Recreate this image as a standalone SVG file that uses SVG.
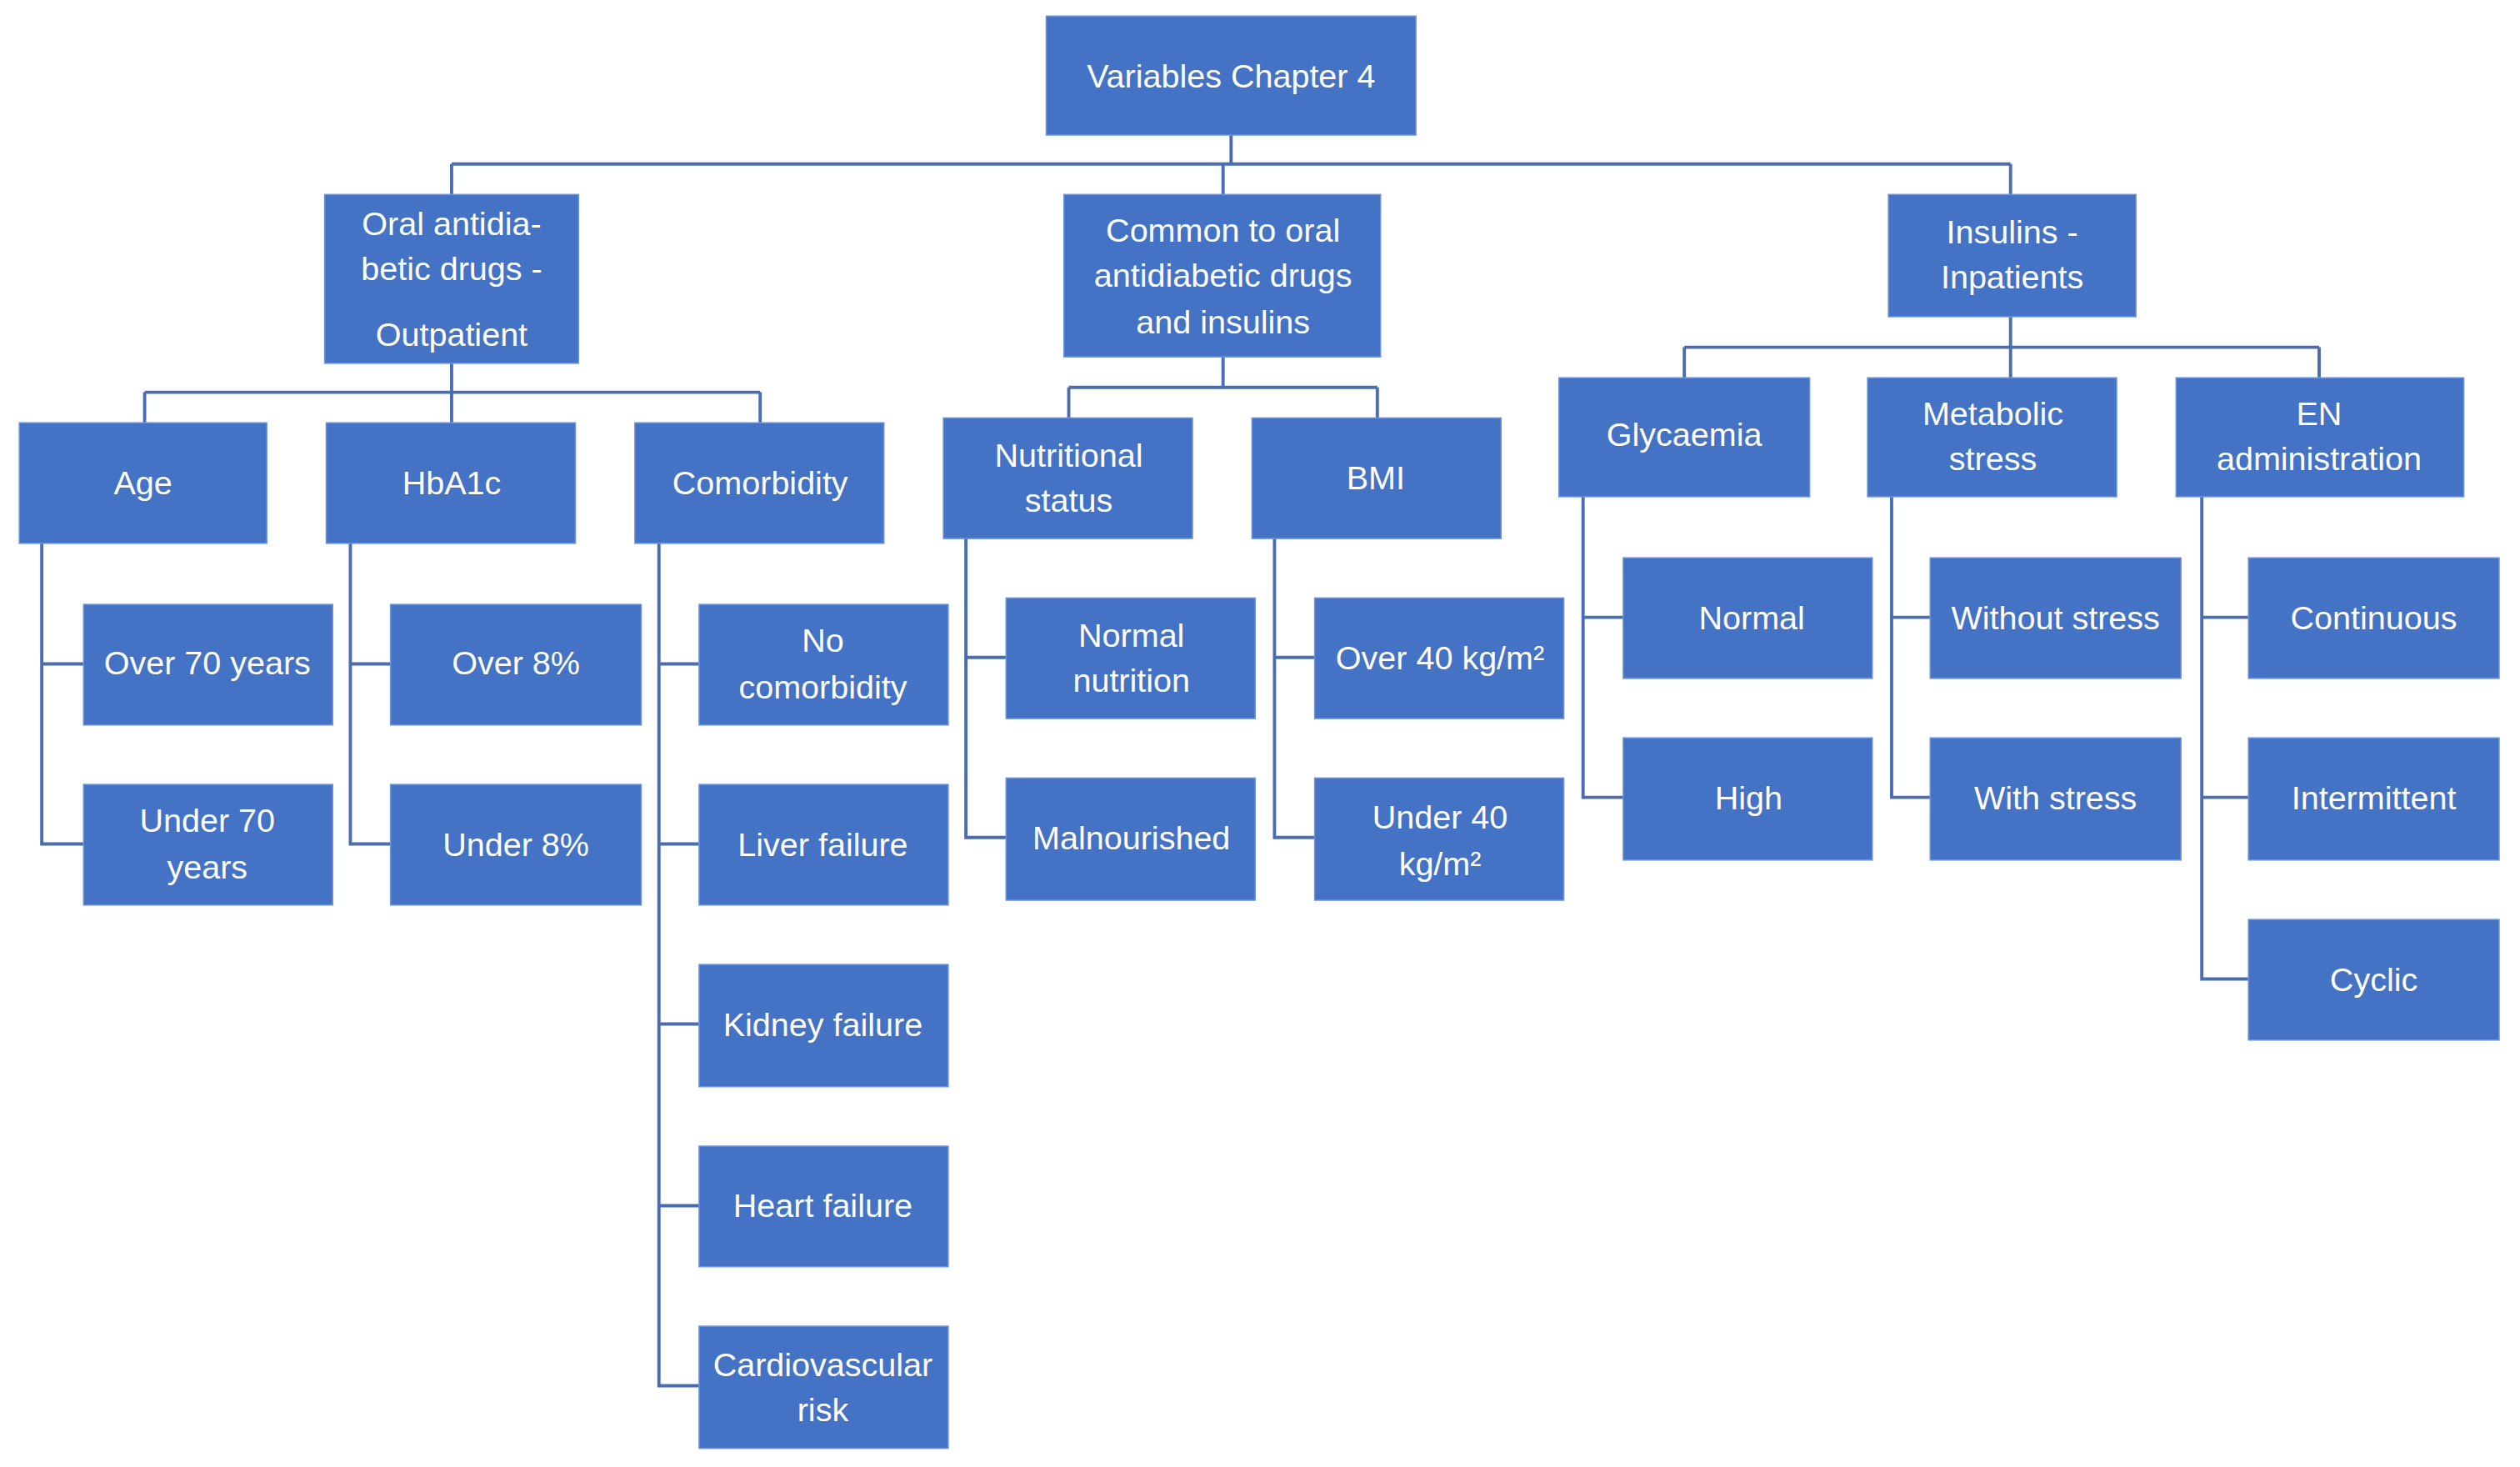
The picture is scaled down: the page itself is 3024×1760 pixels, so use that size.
<svg xmlns="http://www.w3.org/2000/svg" width="3024" height="1760" viewBox="0 0 3024 1760">
<style>
.b{fill:#4472C4;stroke:#6F93D6;stroke-width:0.8}
.t{font-family:"Liberation Sans",Arial,sans-serif;font-size:20.5px;fill:#fff;text-anchor:middle;dominant-baseline:central}
.c{fill:none;stroke:#4A6CB2;stroke-width:2}
</style>
<rect width="3024" height="1760" fill="#fff"/>
<g transform="scale(1.9286)">
<g id="connectors" class="c">
<path d="M766 84V102M281 102H1251M281 102V121M761 102V121M1251 102V121"/>
<path d="M281 226V244M90 244H473M90 244V263M281 244V263M473 244V263"/>
<path d="M761 222V241M665 241H857M665 241V260M857 241V260"/>
<path d="M1251 197V216M1048 216H1443M1048 216V235M1251 216V235M1443 216V235"/>
<path d="M26 338V525H52M26 413H52"/>
<path d="M218 338V525H243M218 413H243"/>
<path d="M410 338V862H435M410 413H435M410 525H435M410 637H435M410 750H435"/>
<path d="M601 335V521H626M601 409H626"/>
<path d="M793 335V521H818M793 409H818"/>
<path d="M985 309V496H1010M985 384H1010"/>
<path d="M1177 309V496H1201M1177 384H1201"/>
<path d="M1370 309V609H1399M1370 384H1399M1370 496H1399"/>
</g>
<g id="root"><rect class="b" x="651" y="10" width="230" height="74"/><text class="t" x="766" y="47">Variables Chapter 4</text></g>
<g id="oral"><rect class="b" x="202" y="121" width="158" height="105"/><text class="t" x="281" y="139">Oral antidia-</text><text class="t" x="281" y="167">betic drugs  -</text><text class="t" x="281" y="208">Outpatient</text></g>
<g id="common"><rect class="b" x="662" y="121" width="197" height="101"/><text class="t" x="761" y="143">Common to oral</text><text class="t" x="761" y="171">antidiabetic drugs</text><text class="t" x="761" y="200">and insulins</text></g>
<g id="insulins"><rect class="b" x="1175" y="121" width="154" height="76"/><text class="t" x="1252" y="144">Insulins -</text><text class="t" x="1252" y="172">Inpatients</text></g>
<g id="age"><rect class="b" x="12" y="263" width="154" height="75"/><text class="t" x="89" y="300">Age</text></g>
<g id="hba1c"><rect class="b" x="203" y="263" width="155" height="75"/><text class="t" x="281" y="300">HbA1c</text></g>
<g id="comorbidity"><rect class="b" x="395" y="263" width="155" height="75"/><text class="t" x="473" y="300">Comorbidity</text></g>
<g id="nutritional"><rect class="b" x="587" y="260" width="155" height="75"/><text class="t" x="665" y="283">Nutritional</text><text class="t" x="665" y="311">status</text></g>
<g id="bmi"><rect class="b" x="779" y="260" width="155" height="75"/><text class="t" x="856" y="297">BMI</text></g>
<g id="glycaemia"><rect class="b" x="970" y="235" width="156" height="74"/><text class="t" x="1048" y="270">Glycaemia</text></g>
<g id="metabolic"><rect class="b" x="1162" y="235" width="155" height="74"/><text class="t" x="1240" y="257">Metabolic</text><text class="t" x="1240" y="285">stress</text></g>
<g id="en"><rect class="b" x="1354" y="235" width="179" height="74"/><text class="t" x="1443" y="257">EN</text><text class="t" x="1443" y="285">administration</text></g>
<g id="over70"><rect class="b" x="52" y="376" width="155" height="75"/><text class="t" x="129" y="412">Over 70 years</text></g>
<g id="under70"><rect class="b" x="52" y="488" width="155" height="75"/><text class="t" x="129" y="510">Under 70</text><text class="t" x="129" y="539">years</text></g>
<g id="over8"><rect class="b" x="243" y="376" width="156" height="75"/><text class="t" x="321" y="412">Over 8%</text></g>
<g id="under8"><rect class="b" x="243" y="488" width="156" height="75"/><text class="t" x="321" y="525">Under 8%</text></g>
<g id="nocomorb"><rect class="b" x="435" y="376" width="155" height="75"/><text class="t" x="512" y="398">No</text><text class="t" x="512" y="427">comorbidity</text></g>
<g id="liver"><rect class="b" x="435" y="488" width="155" height="75"/><text class="t" x="512" y="525">Liver failure</text></g>
<g id="kidney"><rect class="b" x="435" y="600" width="155" height="76"/><text class="t" x="512" y="637">Kidney failure</text></g>
<g id="heart"><rect class="b" x="435" y="713" width="155" height="75"/><text class="t" x="512" y="750">Heart failure</text></g>
<g id="cardio"><rect class="b" x="435" y="825" width="155" height="76"/><text class="t" x="512" y="849">Cardiovascular</text><text class="t" x="512" y="877">risk</text></g>
<g id="normalnut"><rect class="b" x="626" y="372" width="155" height="75"/><text class="t" x="704" y="395">Normal</text><text class="t" x="704" y="423">nutrition</text></g>
<g id="malnourished"><rect class="b" x="626" y="484" width="155" height="76"/><text class="t" x="704" y="521">Malnourished</text></g>
<g id="over40"><rect class="b" x="818" y="372" width="155" height="75"/><text class="t" x="896" y="409">Over 40 kg/m²</text></g>
<g id="under40"><rect class="b" x="818" y="484" width="155" height="76"/><text class="t" x="896" y="508">Under 40</text><text class="t" x="896" y="537">kg/m²</text></g>
<g id="normal"><rect class="b" x="1010" y="347" width="155" height="75"/><text class="t" x="1090" y="384">Normal</text></g>
<g id="high"><rect class="b" x="1010" y="459" width="155" height="76"/><text class="t" x="1088" y="496">High</text></g>
<g id="without"><rect class="b" x="1201" y="347" width="156" height="75"/><text class="t" x="1279" y="384">Without stress</text></g>
<g id="with"><rect class="b" x="1201" y="459" width="156" height="76"/><text class="t" x="1279" y="496">With stress</text></g>
<g id="continuous"><rect class="b" x="1399" y="347" width="156" height="75"/><text class="t" x="1477" y="384">Continuous</text></g>
<g id="intermittent"><rect class="b" x="1399" y="459" width="156" height="76"/><text class="t" x="1477" y="496">Intermittent</text></g>
<g id="cyclic"><rect class="b" x="1399" y="572" width="156" height="75"/><text class="t" x="1477" y="609">Cyclic</text></g>
</g>
</svg>
